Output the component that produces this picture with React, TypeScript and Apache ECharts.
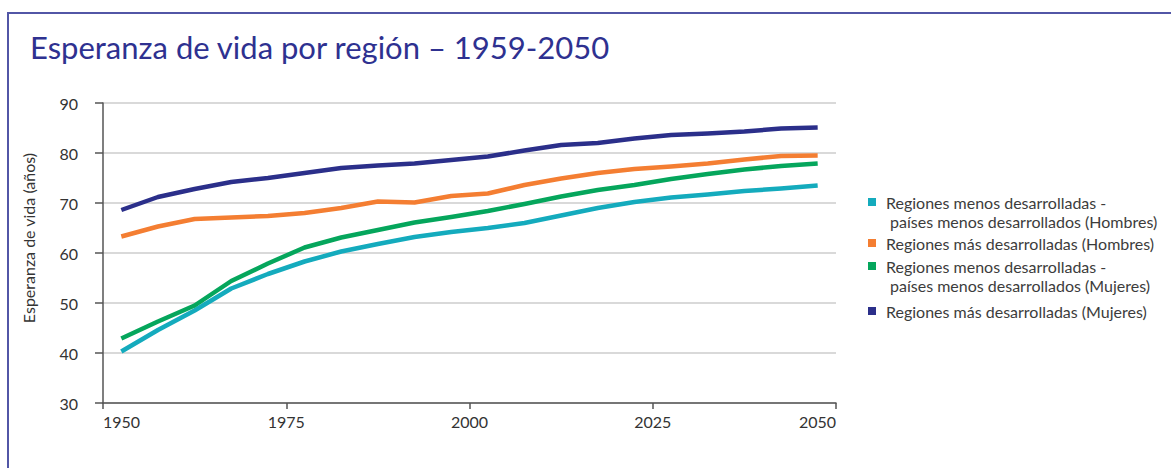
import React, { useEffect, useRef } from "react";
import * as echarts from "echarts";

const years = [1952.5, 1957.5, 1962.5, 1967.5, 1972.5, 1977.5, 1982.5, 1987.5, 1992.5, 1997.5, 2002.5, 2007.5, 2012.5, 2017.5, 2022.5, 2027.5, 2032.5, 2037.5, 2042.5, 2047.5];

const menosHombres = [40.3, 44.6, 48.5, 52.9, 55.8, 58.3, 60.3, 61.8, 63.2, 64.2, 65.0, 66.0, 67.5, 69.0, 70.2, 71.1, 71.7, 72.4, 72.9, 73.5];
const masHombres = [63.3, 65.3, 66.8, 67.1, 67.4, 68.0, 69.0, 70.3, 70.1, 71.4, 71.9, 73.6, 74.9, 76.0, 76.8, 77.3, 77.9, 78.7, 79.4, 79.5];
const menosMujeres = [42.9, 46.3, 49.5, 54.4, 57.9, 61.1, 63.1, 64.6, 66.1, 67.2, 68.4, 69.8, 71.3, 72.6, 73.6, 74.8, 75.8, 76.7, 77.4, 77.9];
const masMujeres = [68.6, 71.2, 72.8, 74.2, 75.0, 76.0, 77.0, 77.5, 77.9, 78.6, 79.3, 80.5, 81.6, 82.0, 82.9, 83.6, 83.9, 84.3, 84.9, 85.1];

const seriesNames = [
  "Regiones menos desarrolladas -\npaíses menos desarrollados (Hombres)",
  "Regiones más desarrolladas (Hombres)",
  "Regiones menos desarrolladas -\npaíses menos desarrollados (Mujeres)",
  "Regiones más desarrolladas (Mujeres)",
];
const seriesValues = [menosHombres, masHombres, menosMujeres, masMujeres];
const colors = ["#14abbd", "#f47e32", "#05a65c", "#2b2f8a"];

const titleText = "Esperanza de vida por región – 1959-2050";
const yAxisName = "Esperanza de vida (años)";

const FONT = "Lato, 'Noto Sans', sans-serif";

export default function App() {
  const ref = useRef<HTMLDivElement>(null);

  useEffect(() => {
    document.body.style.margin = "0";
    const chart = echarts.init(ref.current!, null, { renderer: "svg" });

    const legendCenters = [202, 243, 266, 311];
    const legendGraphics: any[] = [];
    seriesNames.forEach((name, i) => {
      const c = legendCenters[i];
      legendGraphics.push({
        type: "rect",
        shape: { x: 868, y: c - 4, width: 8, height: 8 },
        style: { fill: colors[i] },
      });
      name.split("\n").forEach((line, k) => {
        legendGraphics.push({
          type: "text",
          x: k === 0 ? 886 : 890,
          y: c + k * 19,
          style: {
            text: line,
            fill: "#3c3c3c",
            font: `16px ${FONT}`,
            verticalAlign: "middle",
            align: "left",
          },
        });
      });
    });

    chart.setOption({
      animation: false,
      textStyle: { fontFamily: FONT },
      title: {
        text: titleText,
        left: 25,
        top: 26,
        textStyle: { color: "#2e3190", fontSize: 31, fontWeight: "normal", fontFamily: FONT },
      },
      grid: { left: 103, right: 335, top: 103, bottom: 65, containLabel: false },
      xAxis: {
        type: "value",
        min: 1950,
        max: 2050,
        interval: 25,
        axisLine: { show: true, lineStyle: { color: "#555", width: 1.5 } },
        axisTick: { show: true, length: 6, lineStyle: { color: "#555", width: 1.5 } },
        splitLine: { show: false },
        axisLabel: {
          color: "#333",
          fontSize: 16,
          margin: 10,
          alignMinLabel: "left",
          alignMaxLabel: "right",
          showMinLabel: true,
          showMaxLabel: true,
          formatter: (v: number) => String(v),
        },
      },
      yAxis: {
        type: "value",
        min: 30,
        max: 90,
        interval: 10,
        name: yAxisName,
        nameLocation: "middle",
        nameRotate: 90,
        nameGap: 67,
        nameTextStyle: { color: "#333", fontSize: 16, padding: [0, 0, 0, 30] },
        axisLine: { show: true, lineStyle: { color: "#555", width: 1.5 } },
        axisTick: { show: true, length: 8, lineStyle: { color: "#555", width: 1.5 } },
        splitLine: { show: true, lineStyle: { color: "#cccccc", width: 1.5 } },
        axisLabel: { color: "#333", fontSize: 16, margin: 25 },
      },
      series: seriesNames.map((name, i) => ({
        name,
        type: "line",
        data: years.map((y, j) => [y, seriesValues[i][j]]),
        showSymbol: false,
        symbol: "none",
        lineStyle: { color: colors[i], width: 4.5, cap: "butt", join: "round" },
        itemStyle: { color: colors[i] },
      })),
      graphic: [
        {
          type: "rect",
          shape: { x: 8, y: 13, width: 1200, height: 500 },
          style: { fill: "none", stroke: "#5256a6", lineWidth: 2 },
          silent: true,
        },
        ...legendGraphics,
      ],
    });

    return () => chart.dispose();
  }, []);

  return <div ref={ref} style={{ width: 1171, height: 468 }} />;
}
